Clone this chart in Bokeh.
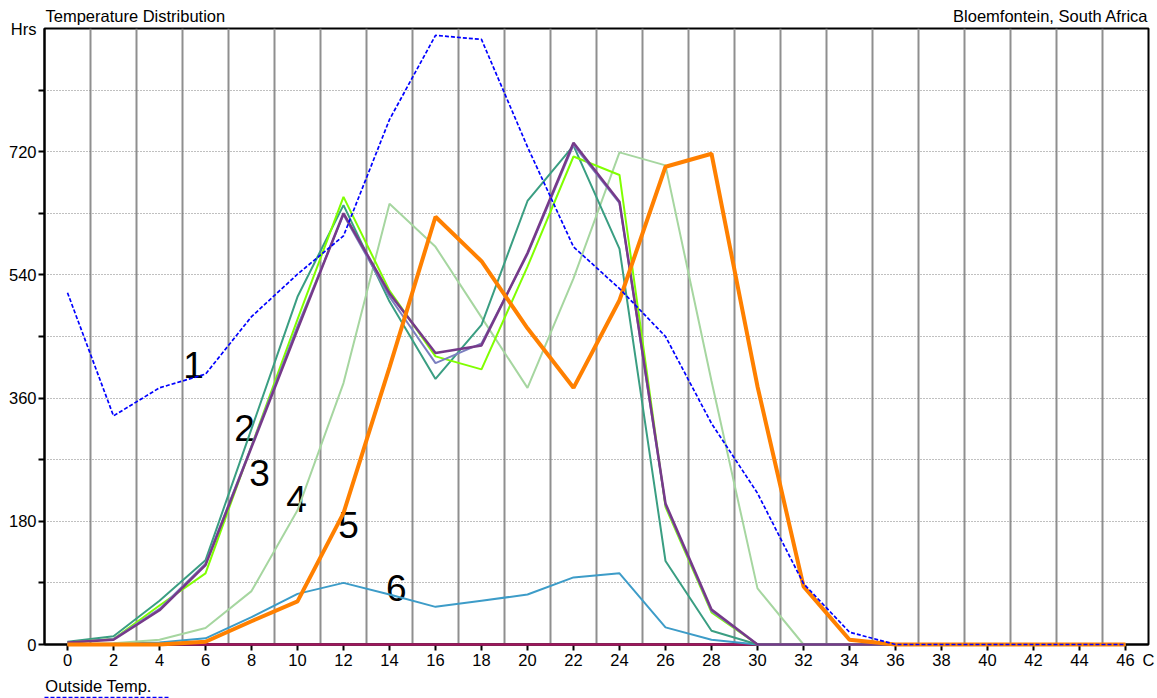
from bokeh.plotting import figure
from bokeh.models import Range1d, FixedTicker, Label, LinearAxis
from bokeh.embed import file_html
from bokeh.resources import INLINE

temps = list(range(0, 47, 2))
pad = lambda vals: vals + [0] * (len(temps) - len(vals))

outside_temp = pad([514, 334, 375, 395, 479, 541, 597, 767, 890, 884, 727, 581, 520, 450, 323, 221, 89, 18, 0])
series_teal = pad([4, 12, 64, 123, 315, 508, 642, 501, 388, 467, 648, 729, 578, 122, 20, 0])
series_lime = pad([3, 8, 57, 104, 290, 475, 654, 517, 421, 402, 552, 713, 686, 201, 47, 0])
series_slate = pad([3, 8, 52, 118, 290, 465, 628, 508, 411, 440, 570, 730, 645, 204, 49, 0])
series_purple = pad([3, 7, 50, 116, 288, 460, 630, 513, 426, 437, 572, 733, 647, 206, 51, 0])
series_lightgreen = pad([0, 2, 7, 24, 78, 196, 382, 644, 581, 478, 375, 535, 719, 700, 385, 82, 0])
series_orange = pad([0, 0, 0, 4, 34, 63, 192, 405, 625, 560, 462, 375, 503, 698, 717, 377, 85, 7, 0])
series_steel = pad([0, 1, 3, 9, 40, 74, 90, 73, 55, 64, 73, 98, 104, 25, 7, 0])
series_zero = [0] * len(temps)

title_left = "Temperature Distribution"
title_right = "Bloemfontein, South Africa"
y_unit = "Hrs"
x_unit = "C"
legend_label = "Outside Temp."

y_minor = list(range(0, 811, 90))
y_major = list(range(0, 721, 180)) + [900]
y_labels = {900: y_unit}
x_minor = temps
x_major = temps + [47]
x_labels = {47: x_unit}
v_grid = list(range(1, 46, 2))
h_grid = list(range(90, 900, 90))

FONT = "Liberation Sans"
FS = "16.5px"

p = figure(width=1157, height=698, output_backend="svg", toolbar_location=None,
           x_range=Range1d(-1, 47), y_range=Range1d(0, 900),
           min_border_left=44, min_border_right=9, min_border_top=28, min_border_bottom=54)
p.title.visible = False
p.background_fill_color = "white"
p.border_fill_color = "white"
p.outline_line_color = "black"
p.outline_line_width = 2

p.xaxis.ticker = FixedTicker(ticks=x_major, minor_ticks=x_minor)
p.xaxis.major_label_overrides = x_labels
p.yaxis.ticker = FixedTicker(ticks=y_major, minor_ticks=y_minor)
p.yaxis.major_label_overrides = y_labels
for ax in (p.xaxis[0], p.yaxis[0]):
    ax.axis_line_width = 2
    ax.axis_line_color = "black"
    ax.major_tick_out = 6
    ax.major_tick_in = 0
    ax.major_tick_line_color = None
    ax.minor_tick_out = 6
    ax.minor_tick_in = 0
    ax.minor_tick_line_width = 2
    ax.minor_tick_line_color = "black"
    ax.major_label_text_font = FONT
    ax.major_label_text_font_size = FS
    ax.major_label_text_color = "black"
p.xaxis.major_label_standoff = 0
p.yaxis.major_label_standoff = 2

# top texts carried by an above axis
top_ax = LinearAxis(ticker=FixedTicker(ticks=[2.95, 42.75]),
                    major_label_overrides={2.95: title_left, 42.75: title_right})
top_ax.axis_line_color = None
top_ax.major_tick_line_color = None
top_ax.minor_tick_line_color = None
top_ax.major_tick_out = 0
top_ax.major_tick_in = 0
top_ax.minor_tick_out = 0
top_ax.major_label_standoff = 4
top_ax.major_label_text_font = FONT
top_ax.major_label_text_font_size = FS
top_ax.major_label_text_color = "black"
p.add_layout(top_ax, "above")

# legend text below
leg_ax = LinearAxis(ticker=FixedTicker(ticks=[1.35]), major_label_overrides={1.35: legend_label})
leg_ax.axis_line_color = None
leg_ax.major_tick_line_color = None
leg_ax.minor_tick_line_color = None
leg_ax.major_tick_out = 0
leg_ax.major_tick_in = 0
leg_ax.minor_tick_out = 0
leg_ax.major_label_standoff = 5
leg_ax.major_label_text_font = FONT
leg_ax.major_label_text_font_size = FS
leg_ax.major_label_text_color = "black"
p.add_layout(leg_ax, "below")

# legend dashed sample as a bounded axis line
leg_line = LinearAxis(ticker=FixedTicker(ticks=[]), bounds=(-1, 4.48))
leg_line.axis_line_color = "#0000ff"
leg_line.axis_line_width = 1.5
leg_line.axis_line_dash = "4 2"
leg_line.major_tick_out = 0
leg_line.major_tick_in = 0
leg_line.minor_tick_out = 0
leg_line.major_label_standoff = 0
p.add_layout(leg_line, "below")

p.xgrid.ticker = FixedTicker(ticks=v_grid)
p.xgrid.grid_line_color = "#8f8f8f"
p.xgrid.grid_line_width = 2
p.ygrid.ticker = FixedTicker(ticks=h_grid)
p.ygrid.grid_line_color = "#808080"
p.ygrid.grid_line_width = 1
p.ygrid.grid_line_dash = "1 2"

styles = [
    (series_zero, "#a0165e", 2.5, "solid"),
    (series_steel, "#3d9cc8", 2, "solid"),
    (series_lightgreen, "#a6d6a0", 2, "solid"),
    (series_teal, "#3a9e82", 2, "solid"),
    (series_lime, "#80ff00", 2, "solid"),
    (series_slate, "#7b7fbf", 2, "solid"),
    (series_purple, "#763a8a", 2.5, "solid"),
    (series_orange, "#ff8000", 4, "solid"),
    (outside_temp, "#0000ff", 1.7, "4 2"),
]
for vals, color, w, dash in styles:
    r = p.line(temps, vals, line_color=color, line_width=w, line_dash=dash)
    r.level = "overlay"

# series number labels
for txt, x, y in [("1", 5.48, 408), ("2", 7.7, 316), ("3", 8.35, 250),
                  ("4", 9.96, 213), ("5", 12.22, 174), ("6", 14.3, 82)]:
    p.add_layout(Label(x=x, y=y, text=txt, text_align="center", text_baseline="middle",
                       text_font=FONT, text_font_size="37px", text_color="black"))

open("out.html", "w").write(file_html(p, INLINE))
